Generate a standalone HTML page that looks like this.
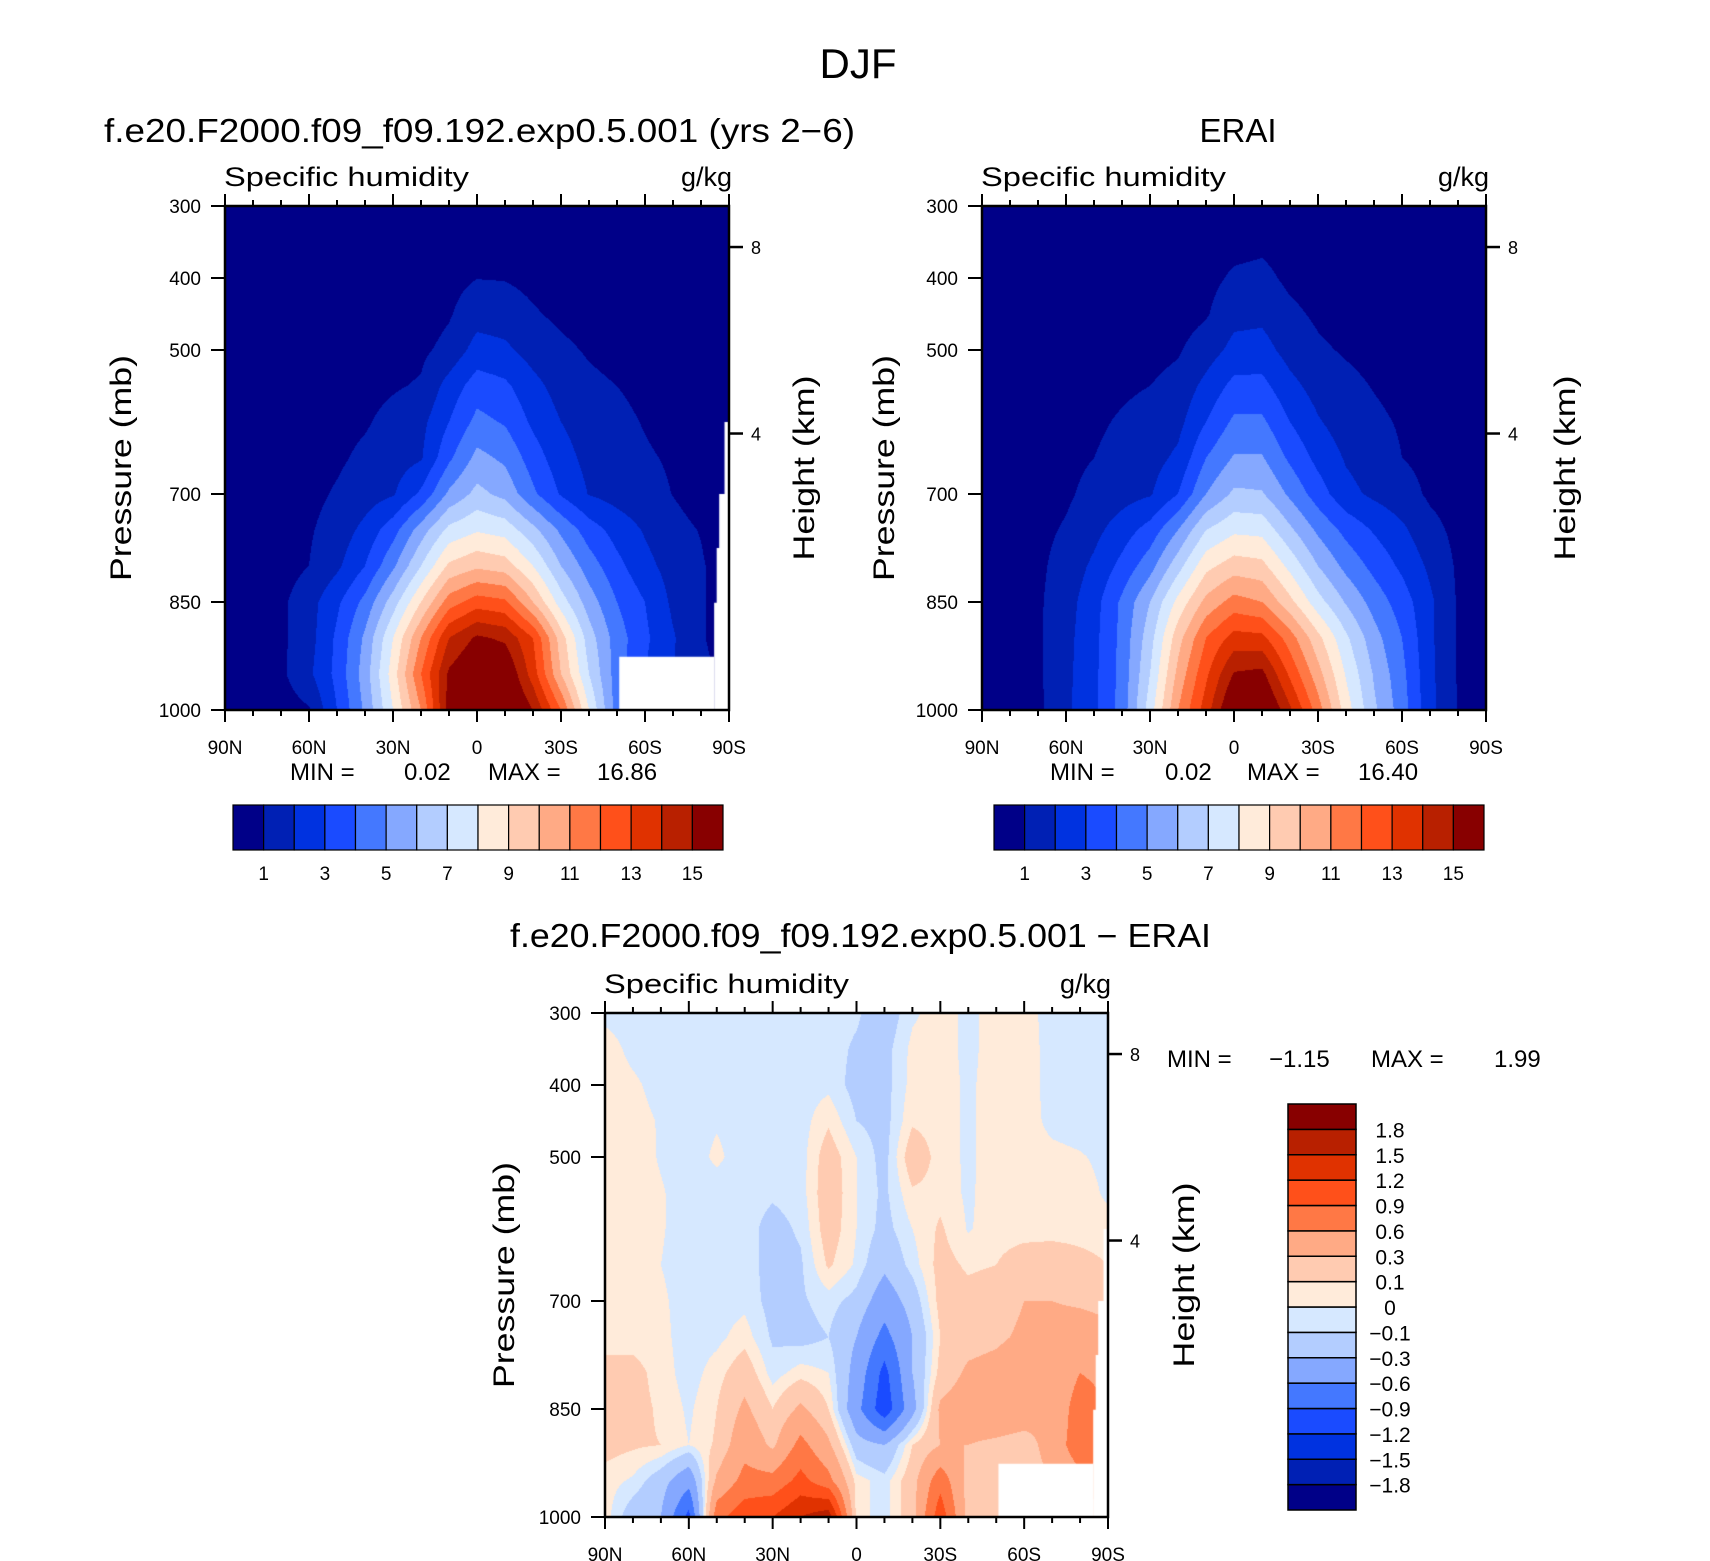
<!DOCTYPE html>
<html><head><meta charset="utf-8">
<style>
html,body{margin:0;padding:0;background:#fff;}
#wrap{position:relative;width:1710px;height:1561px;overflow:hidden;background:#fff;}
canvas{position:absolute;}
svg{position:absolute;left:0;top:0;}
text{font-family:"Liberation Sans",sans-serif;fill:#000;}
</style></head>
<body>
<div id="wrap">
<canvas id="c1"></canvas>
<canvas id="c2"></canvas>
<canvas id="c3"></canvas>
<svg id="ov" width="1710" height="1561"></svg>
</div>
<script>
// ---- data ----
const lats = [90,80,70,60,50,40,30,20,10,0,-10,-20,-30,-40,-50,-60,-70,-80,-90];
const plevs = [300,350,400,450,500,550,600,650,700,750,800,850,900,950,1000];
const latTicks = [90,60,30,0,-30,-60,-90];
const latTickLabels = ["90N","60N","30N","0","30S","60S","90S"];
const pTicks = [300,400,500,700,850,1000];
const hTickP = [357,616];
const hTickLabels = ["8","4"];
const qLevels = [1,2,3,4,5,6,7,8,9,10,11,12,13,14,15];
const qLabels = ["1","3","5","7","9","11","13","15"];
const dLevels = [-1.8,-1.5,-1.2,-0.9,-0.6,-0.3,-0.1,0,0.1,0.3,0.6,0.9,1.2,1.5,1.8];
const dLabels = ["-1.8","-1.5","-1.2","-0.9","-0.6","-0.3","-0.1","0","0.1","0.3","0.6","0.9","1.2","1.5","1.8"];
const palette = ["#000088","#0020b4","#0032e0","#1a4bff","#4478ff","#85a8ff","#b3cdff","#d6e8ff","#ffebda","#ffcbb1","#ffaa85","#ff7845","#ff501a","#e03200","#b82000","#880000"];
const modelQ = [
[.2,.2,.2,.2,.2,.2,.2,.25,.3,.35,.35,.3,.25,.2,.2,.2,.2,.2,.2],
[.2,.2,.2,.2,.25,.3,.35,.4,.5,.6,.6,.5,.4,.35,.3,.25,.2,.2,.2],
[.2,.2,.2,.25,.3,.35,.45,.55,.7,.98,.95,.75,.6,.5,.4,.3,.25,.2,.2],
[.2,.2,.25,.3,.35,.4,.45,.5,.9,1.6,1.5,1.1,.8,.6,.5,.4,.3,.25,.2],
[.2,.2,.3,.35,.45,.55,.6,.8,1.3,2.4,2.2,1.6,1.2,.9,.7,.5,.4,.3,.2],
[.2,.2,.3,.4,.5,.7,.9,1.1,2.4,3.5,3.2,2.3,1.6,1.2,1.0,.8,.6,.4,.3],
[.2,.3,.4,.5,.7,.9,1.3,1.7,3.0,4.3,3.9,2.8,2.0,1.5,1.2,.95,.7,.5,.3],
[.2,.3,.4,.6,.85,1.2,1.5,1.9,3.8,5.3,4.8,3.5,2.4,1.7,1.3,1.1,.9,.6,.3],
[.2,.3,.5,.75,1.1,1.5,1.9,3.2,5.2,6.3,5.7,4.2,2.9,1.95,1.6,1.3,.98,.6,.3],
[.2,.3,.5,.9,1.4,2.3,3.6,5.5,7.3,7.9,7.6,6.3,4.8,3.5,2.6,1.9,1.3,.95,.4],
[.2,.3,.6,1.0,1.8,3.0,4.8,7.0,9.2,9.8,9.5,8.0,6.0,4.5,3.3,2.3,1.6,1.1,.5],
[.2,.4,.8,1.6,2.8,4.3,6.5,9.0,11.5,12.5,12.2,10.0,7.5,5.5,4.0,3.0,1.8,1.1,.5],
[.2,.4,.8,1.6,3.2,5.2,8.0,11.0,14.0,15.2,14.8,13.0,9.5,6.5,4.5,3.2,2.1,1.1,.5],
[.2,.4,.8,1.8,3.3,5.5,8.5,12.0,15.2,16.3,16.2,13.5,10.0,7.0,4.5,3.0,2.0,1.3,.6],
[.2,.3,.5,.9,3.0,5.2,8.0,11.0,15.5,16.8,16.8,15.0,12.0,8.0,4.5,2.5,1.5,1.0,.5]];
const eraiQ = [
[.2,.2,.2,.2,.2,.2,.2,.25,.3,.35,.4,.35,.3,.25,.2,.2,.2,.2,.2],
[.2,.2,.2,.2,.25,.3,.35,.4,.5,.7,.8,.6,.45,.35,.3,.25,.2,.2,.2],
[.2,.2,.2,.25,.3,.35,.4,.45,.7,1.15,1.25,.8,.6,.45,.4,.3,.25,.2,.2],
[.2,.2,.25,.3,.35,.4,.45,.6,.9,1.7,1.75,1.2,.85,.6,.45,.4,.3,.25,.2],
[.2,.2,.3,.4,.5,.6,.7,.9,1.5,2.3,2.4,1.6,1.15,.9,.7,.5,.4,.3,.2],
[.2,.25,.35,.5,.7,.85,1.0,1.3,2.3,3.3,3.3,2.3,1.6,1.25,.95,.7,.5,.35,.25],
[.2,.3,.4,.6,.85,1.1,1.35,1.7,3.0,4.2,4.2,3.0,2.1,1.5,1.2,.9,.65,.4,.3],
[.2,.3,.5,.75,1.0,1.3,1.6,2.2,4.0,5.1,5.1,3.8,2.7,1.9,1.5,1.0,.75,.5,.3],
[.2,.35,.6,.85,1.3,1.6,1.9,3.0,5.0,6.2,6.1,4.8,3.5,2.3,1.8,1.4,.85,.6,.3],
[.2,.4,.75,1.1,1.7,2.5,3.4,5.0,7.0,7.8,7.7,6.2,4.8,3.7,2.9,2.2,1.3,.75,.3],
[.2,.4,.8,1.4,2.2,3.3,4.6,6.6,8.7,9.5,9.3,7.7,6.0,4.7,3.7,2.8,1.8,.85,.3],
[.2,.4,.85,1.6,2.6,4.2,6.0,8.3,10.3,11.4,11.0,9.3,7.4,5.9,4.6,3.5,2.2,.9,.3],
[.2,.4,.85,1.7,2.7,4.3,6.6,9.6,12.0,13.4,13.3,11.5,9.3,7.2,5.4,4.0,2.2,.9,.3],
[.2,.4,.82,1.75,2.75,4.35,7.0,10.3,12.8,15.1,15.3,12.8,10.4,7.9,5.9,4.3,2.25,.92,.3],
[.2,.4,.8,1.8,2.8,4.4,7.5,11.0,13.5,16.4,16.6,14.2,11.5,8.5,6.2,4.5,2.3,.95,.3]];
const diffQ = [
[-.03,-.05,-.05,-.05,-.05,-.05,-.05,-.05,-.05,-.08,-.2,-.02,.05,-.03,.05,.05,-.05,-.05,-.05],
[.05,-.03,-.05,-.05,-.05,-.05,-.05,-.05,-.05,-.12,-.15,.03,.05,-.03,.05,.05,-.04,-.05,-.05],
[.06,.02,-.04,-.05,-.05,-.05,-.05,-.05,-.03,-.15,-.15,.04,.05,-.02,.05,.05,-.04,-.05,-.05],
[.07,.04,-.01,-.05,-.01,-.05,-.05,-.05,.08,-.1,-.15,.08,.05,-.02,.05,.05,-.03,-.05,-.05],
[.07,.05,-.01,-.05,.02,-.05,-.05,-.05,.18,0,-.15,.2,.05,-.02,.05,.05,.03,.01,-.03],
[.06,.05,.01,-.05,-.05,-.05,-.08,-.05,.2,0,-.13,.08,.06,-.02,.06,.06,.04,.05,-.02],
[.05,.05,.01,-.05,-.05,-.05,-.15,-.08,.18,0,-.15,0,.12,-.01,.05,.05,.05,.05,.04],
[.05,.04,0,-.05,-.05,-.05,-.15,-.12,.12,-.02,-.25,-.05,.15,.08,.1,.18,.2,.15,.1],
[.05,.04,.02,-.05,-.05,-.03,-.15,-.12,-.05,-.15,-.45,-.2,.15,.15,.18,.3,.3,.25,.2],
[.05,.05,.03,-.05,-.03,.05,-.12,-.15,-.1,-.3,-.7,-.3,.1,.2,.25,.35,.45,.5,.4],
[.15,.15,.05,-.05,.05,.2,-.05,.05,0,-.4,-1.0,-.3,.15,.35,.4,.5,.3,.6,.5],
[.15,.15,.08,-.02,.1,.35,.1,.35,.1,-.5,-1.1,-.4,.35,.45,.5,.45,.3,.8,.6],
[.15,.12,.1,0,.12,.5,.25,.7,.35,-.2,-.3,.1,.3,.3,.25,.2,.4,.8,.6],
[.05,-.02,-.2,-.5,.35,.7,.7,1.0,.7,.05,-.05,.2,.8,.2,.2,.2,.3,.5,.5],
[.05,-.2,-.3,-1.0,.8,1.1,1.2,1.5,1.7,.05,-.05,.2,1.1,.2,.1,.1,.1,.1,.1]];
const maskPoly = [[-88.4,600],[-90,600],[-90,1000],[-84.7,1000],[-84.7,851],[-85.6,851],[-85.6,775],[-86.5,775],[-86.5,700],[-88.4,700]];
const maskBox = [[-50.8,926],[-84.7,926],[-84.7,1000],[-50.8,1000]];

// ---- panels ----
const panels = [
 {id:"c1",name:"model",x:225,y:206,w:504,h:504,grid:modelQ,levels:qLevels,mask:true},
 {id:"c2",name:"erai",x:982,y:206,w:504,h:504,grid:eraiQ,levels:qLevels,mask:false},
 {id:"c3",name:"diff",x:605,y:1013,w:503,h:504,grid:diffQ,levels:dLevels,mask:true}
];
function hex2rgb(h){return [parseInt(h.substr(1,2),16),parseInt(h.substr(3,2),16),parseInt(h.substr(5,2),16)];}
const palRGB = palette.map(hex2rgb);
function xOf(P,lat){return P.x+(90-lat)/180*P.w;}
function yOf(P,p){return P.y+(p-300)/700*P.h;}
function sample(grid,lat,p){
  let c=(90-lat)/10, r=(p-300)/50;
  let c0=Math.min(Math.floor(c),lats.length-2), r0=Math.min(Math.floor(r),plevs.length-2);
  let fc=c-c0, fr=r-r0;
  let a=grid[r0][c0],b=grid[r0][c0+1],d=grid[r0+1][c0],e=grid[r0+1][c0+1];
  return (a*(1-fc)+b*fc)*(1-fr)+(d*(1-fc)+e*fc)*fr;
}
function levelIndex(levels,v){let k=0;for(const l of levels){if(v>=l)k++;}return k;}
panels.forEach(P=>{
  const cv=document.getElementById(P.id);
  cv.width=P.w;cv.height=P.h;cv.style.left=P.x+"px";cv.style.top=P.y+"px";
  const ctx=cv.getContext("2d");
  const img=ctx.createImageData(P.w,P.h);
  for(let j=0;j<P.h;j++){
    const p=300+700*(j+0.5)/P.h;
    for(let i=0;i<P.w;i++){
      const lat=90-180*(i+0.5)/P.w;
      const v=sample(P.grid,lat,p);
      const col=palRGB[levelIndex(P.levels,v)];
      const o=(j*P.w+i)*4;
      img.data[o]=col[0];img.data[o+1]=col[1];img.data[o+2]=col[2];img.data[o+3]=255;
    }
  }
  ctx.putImageData(img,0,0);
  if(P.mask){
    ctx.fillStyle="#fff";
    [maskPoly,maskBox].forEach(poly=>{
      ctx.beginPath();
      poly.forEach((pt,k)=>{const X=xOf(P,pt[0])-P.x,Y=yOf(P,pt[1])-P.y;if(k)ctx.lineTo(X,Y);else ctx.moveTo(X,Y);});
      ctx.closePath();ctx.fill();
    });
  }
});

// ---- overlay ----
const NS="http://www.w3.org/2000/svg";
const svg=document.getElementById("ov");
function el(tag,attrs,txt){const e=document.createElementNS(NS,tag);for(const k in attrs)e.setAttribute(k,attrs[k]);if(txt!==undefined)e.textContent=txt;svg.appendChild(e);return e;}
function line(x1,y1,x2,y2,w){return el("line",{x1:x1,y1:y1,x2:x2,y2:y2,stroke:"#000","stroke-width":w||2.5});}
function txt(x,y,s,size,anchor,extra){const a={x:x,y:y,"font-size":size,"text-anchor":anchor||"start"};if(extra)for(const k in extra)a[k]=extra[k];return el("text",a,s);}

let t;
t=txt(858,78,"DJF",42,"middle");


t=txt(104,142,"f.e20.F2000.f09_f09.192.exp0.5.001 (yrs 2\u22126)",33,"start",{textLength:751,lengthAdjust:"spacingAndGlyphs"});


t=txt(1238,142,"ERAI",33,"middle");


t=txt(510,947,"f.e20.F2000.f09_f09.192.exp0.5.001 \u2212 ERAI",33,"start",{textLength:701,lengthAdjust:"spacingAndGlyphs"});



const minmax=[
 {P:0,y:780,parts:[[290,"MIN ="],[404,"0.02"],[488,"MAX ="],[597,"16.86"]]},
 {P:1,y:780,parts:[[1050,"MIN ="],[1165,"0.02"],[1247,"MAX ="],[1358,"16.40"]]},
 {P:2,y:1067,parts:[[1167,"MIN ="],[1269,"\u22121.15"],[1371,"MAX ="],[1494,"1.99"]]}
];
const titles=[{pl:0,py:131,hx:814},{pl:1,py:894,hx:1575},{pl:2,py:514,hx:1194}];

panels.forEach((P,idx)=>{
  const R=P.x+P.w,B=P.y+P.h;
  t=txt(P.x-1,P.y-20,"Specific humidity",27,"start",{textLength:245,lengthAdjust:"spacingAndGlyphs"});
  
  
  t=txt(R+3,P.y-20,"g/kg",27,"end");
  
  
  const fr=el("rect",{x:P.x,y:P.y,width:P.w,height:P.h,fill:"none",stroke:"#000","stroke-width":2.5});
  
  
  for(let lat=90;lat>=-90;lat-=10){
    const X=xOf(P,lat),L=(lat%30===0)?12:6;
    line(X,B,X,B+L,2);line(X,P.y,X,P.y-L,2);
  }
  latTicks.forEach((lat,k)=>{
    t=txt(xOf(P,lat),B+44,latTickLabels[k],19,"middle");
    
    
  });
  pTicks.forEach(p=>{
    const Y=yOf(P,p);line(P.x-14,Y,P.x,Y,2);
    t=txt(P.x-24,Y+7,String(p),19,"end");
    
    
  });
  hTickP.forEach((p,k)=>{
    const Y=yOf(P,p);line(R,Y,R+14,Y,2.5);
    t=txt(R+22,Y+7,hTickLabels[k],18,"start");
    
    
  });
  const T=titles[idx];const cy=P.y+P.h/2+10;
  t=txt(T.py,cy,"Pressure (mb)",30,"middle",{transform:"rotate(-90 "+T.py+" "+cy+")",textLength:226,lengthAdjust:"spacingAndGlyphs"});
  
  
  t=txt(T.hx,cy,"Height (km)",30,"middle",{transform:"rotate(-90 "+T.hx+" "+cy+")",textLength:185,lengthAdjust:"spacingAndGlyphs"});
  
  
  const M=minmax[idx];
  M.parts.forEach((pt,k)=>{
    t=txt(pt[0],M.y,pt[1],24,"start");
    
    
  });
});

// horizontal colorbars
[{x:233,name:"model"},{x:994,name:"erai"}].forEach(cb=>{
  const W=490,Y=805,H=45,n=palette.length,bw=W/n;
  palette.forEach((c,k)=>{
    const r=el("rect",{x:cb.x+k*bw,y:Y,width:bw,height:H,fill:c,stroke:"#000","stroke-width":1.2});
    
    
  });
  qLabels.forEach(s=>{
    const v=parseFloat(s),k=qLevels.indexOf(v);
    t=txt(cb.x+(k+1)*bw,Y+H+30,s,19,"middle");
    
    
  });
});
// vertical colorbar
(function(){
  const X=1288,Y=1104,W=68,H=406,n=palette.length,bh=H/n;
  palette.forEach((c,k)=>{
    const r=el("rect",{x:X,y:Y+(n-1-k)*bh,width:W,height:bh,fill:c,stroke:"#000","stroke-width":1.5});
    
    
  });
  dLabels.forEach((s,k)=>{
    const yb=Y+(n-1-k)*bh;
    t=txt(1390,yb+8,s.replace("-","\u2212"),21,"middle");
    
    
  });
})();
</script>
</body></html>
